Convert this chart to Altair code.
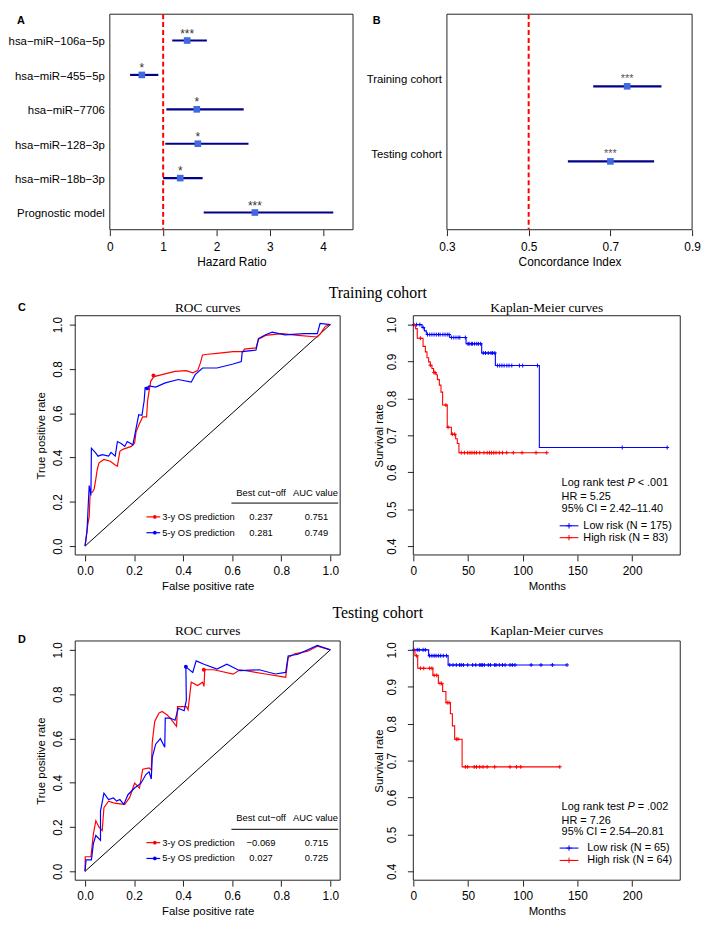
import altair as alt
import pandas as pd

SANS = "Liberation Sans"
SERIF = "Liberation Serif"
RED = "#FF0000"
BLUE = "#0000FF"

# ---------------- Panel A: hazard ratios ----------------
a_labels = ["hsa−miR−106a−5p", "hsa−miR−455−5p", "hsa−miR−7706",
            "hsa−miR−128−3p", "hsa−miR−18b−3p", "Prognostic model"]
a_hr = [1.45, 0.60, 1.63, 1.65, 1.32, 2.72]
a_lo = [1.17, 0.38, 1.06, 1.04, 1.00, 1.76]
a_hi = [1.82, 0.91, 2.51, 2.60, 1.74, 4.19]
a_sig = ["***", "*", "*", "*", "*", "***"]
a_ref = 1.0
a_xticks = [0, 1, 2, 3, 4]
a_xdom = [0, 4.56]
a_ydom = [0.235, 6.5]

# ---------------- Panel B: concordance index ----------------
b_labels = ["Training cohort", "Testing cohort"]
b_ci = [0.741, 0.700]
b_lo = [0.658, 0.596]
b_hi = [0.825, 0.807]
b_sig = ["***", "***"]
b_ref = 0.5
b_xticks = [0.3, 0.5, 0.7, 0.9]
b_xdom = [0.3, 0.9]
b_ydom = [0.04, 2.91]

# ---------------- ROC curves ----------------
roc_ticks = [0.0, 0.2, 0.4, 0.6, 0.8, 1.0]
roc_dom = [-0.04, 1.04]
roc_names = ["3-y OS prediction", "5-y OS prediction"]

rc3_fpr = [0, 0.011, 0.017, 0.021, 0.030, 0.037, 0.044, 0.050, 0.057, 0.077, 0.103, 0.123, 0.132, 0.142,
           0.156, 0.189, 0.202, 0.208, 0.222, 0.235, 0.251, 0.255, 0.261, 0.268, 0.281, 0.314, 0.367,
           0.413, 0.439, 0.459, 0.470, 0.479, 0.499, 0.538, 0.604, 0.644, 0.650, 0.697, 0.707, 0.736,
           0.802, 0.868, 0.947, 0.960, 0.980, 1.0]
rc3_tpr = [0, 0.096, 0.133, 0.243, 0.243, 0.258, 0.302, 0.347, 0.376, 0.391, 0.383, 0.366, 0.361, 0.428,
           0.438, 0.450, 0.465, 0.516, 0.553, 0.583, 0.583, 0.656, 0.700, 0.745, 0.765, 0.774, 0.789,
           0.792, 0.782, 0.792, 0.826, 0.863, 0.866, 0.870, 0.878, 0.878, 0.889, 0.895, 0.934, 0.951,
           0.959, 0.951, 0.944, 0.959, 0.993, 1.0]
rc5_fpr = [0, 0.008, 0.013, 0.017, 0.024, 0.026, 0.044, 0.053, 0.070, 0.096, 0.106, 0.123, 0.132, 0.149,
           0.162, 0.172, 0.195, 0.208, 0.219, 0.232, 0.241, 0.245, 0.251, 0.261, 0.288, 0.327, 0.380,
           0.433, 0.449, 0.479, 0.538, 0.604, 0.637, 0.641, 0.697, 0.707, 0.736, 0.763, 0.815, 0.894,
           0.947, 0.958, 1.0]
rc5_tpr = [0, 0.066, 0.184, 0.273, 0.229, 0.442, 0.420, 0.406, 0.413, 0.406, 0.423, 0.406, 0.472, 0.462,
           0.450, 0.472, 0.457, 0.531, 0.593, 0.590, 0.656, 0.715, 0.712, 0.723, 0.718, 0.737, 0.752,
           0.740, 0.774, 0.804, 0.804, 0.822, 0.833, 0.878, 0.885, 0.937, 0.954, 0.966, 0.954, 0.959,
           0.959, 1.005, 1.0]
rc_dot_fpr = [0.279, 0.253]
rc_dot_tpr = [0.770, 0.712]
rc_cut = [0.237, 0.281]
rc_auc = [0.751, 0.749]

rd3_fpr = [0, 0.001, 0.024, 0.034, 0.044, 0.057, 0.070, 0.077, 0.096, 0.116, 0.142, 0.162, 0.182, 0.202,
           0.222, 0.235, 0.261, 0.270, 0.274, 0.284, 0.301, 0.314, 0.334, 0.347, 0.373, 0.377, 0.413,
           0.420, 0.433, 0.459, 0.479, 0.485, 0.488, 0.525, 0.604, 0.631, 0.736, 0.802, 0.818, 0.828,
           0.855, 0.908, 0.947, 1.0]
rd3_tpr = [0, 0.066, 0.066, 0.169, 0.228, 0.199, 0.184, 0.287, 0.317, 0.309, 0.305, 0.302, 0.334, 0.398,
           0.376, 0.461, 0.467, 0.457, 0.582, 0.677, 0.714, 0.722, 0.707, 0.692, 0.655, 0.744, 0.744,
           0.729, 0.854, 0.839, 0.854, 0.835, 0.910, 0.910, 0.890, 0.910, 0.891, 0.879, 0.876, 0.965,
           0.982, 0.994, 1.016, 1.0]
rd5_fpr = [0, 0.004, 0.026, 0.034, 0.044, 0.063, 0.063, 0.077, 0.096, 0.116, 0.129, 0.142, 0.158, 0.175,
           0.202, 0.228, 0.248, 0.261, 0.270, 0.274, 0.288, 0.307, 0.325, 0.327, 0.347, 0.367, 0.380,
           0.404, 0.413, 0.411, 0.439, 0.453, 0.485, 0.538, 0.578, 0.631, 0.710, 0.776, 0.818, 0.828,
           0.868, 0.947, 1.0]
rd5_tpr = [0, 0.052, 0.052, 0.125, 0.162, 0.140, 0.272, 0.353, 0.324, 0.331, 0.317, 0.324, 0.302, 0.346,
           0.376, 0.398, 0.437, 0.449, 0.417, 0.515, 0.574, 0.599, 0.560, 0.692, 0.692, 0.682, 0.736,
           0.725, 0.773, 0.923, 0.898, 0.950, 0.935, 0.913, 0.935, 0.906, 0.910, 0.891, 0.898, 0.972,
           0.980, 1.020, 1.0]
rd_dot_fpr = [0.484, 0.411]
rd_dot_tpr = [0.910, 0.924]
rd_cut = [-0.069, 0.027]
rd_auc = [0.715, 0.725]

# ---------------- Kaplan-Meier curves ----------------
km_xticks = [0, 50, 100, 150, 200]
km_yticks = [0.4, 0.5, 0.6, 0.7, 0.8, 0.9, 1.0]
km_xdom = [0, 244]
km_ydom = [0.376, 1.024]

kc_low_t = [0, 8.0, 10.1, 11.9, 12.5, 33.3, 48.2, 62.5, 75.0, 115.2, 232]
kc_low_s = [1.0, 0.992, 0.983, 0.977, 0.973, 0.965, 0.948, 0.923, 0.889, 0.667, 0.667]
kc_low_c = [0.6, 3, 6, 9, 13, 15, 17, 19, 21, 23, 24.5, 27, 29, 31, 32.7, 35, 37, 39, 41, 42.5, 47.5,
            50, 51, 53, 54, 56, 58, 59.5, 61.5, 64, 66, 68.5, 71, 72.5, 74.5, 77, 79, 81, 83, 85.5,
            87.5, 90, 97, 100, 113.5, 191, 232]
kc_high_t = [0, 2.1, 3.6, 8.9, 11.0, 12.5, 14.0, 15.5, 17.0, 18.5, 20.8, 22.0, 23.8, 25.3, 26.8, 31.0,
             34.8, 38.7, 40.2, 41.7, 122]
kc_high_s = [1.0, 0.989, 0.963, 0.941, 0.926, 0.910, 0.899, 0.890, 0.881, 0.870, 0.864, 0.851, 0.836,
             0.817, 0.782, 0.722, 0.703, 0.691, 0.678, 0.653, 0.653]
kc_high_c = [6.5, 15.6, 19.0, 19.9, 29.8, 31.8, 35.7, 37.8, 43.8, 46.7, 49.7, 51.8, 53.6, 55.7, 57.7,
             60.7, 64.6, 67.5, 69.6, 71.4, 73.5, 75.6, 78.6, 81.5, 85.4, 91.4, 99.4, 112.2, 122.0]

kd_low_t = [0, 14.0, 31.8, 140.5]
kd_low_s = [1.0, 0.984, 0.959, 0.959]
kd_low_c = [0.6, 3.6, 5.4, 8.9, 11.0, 14.9, 17.0, 19.0, 20.8, 22.9, 25.0, 27.4, 30.4, 33.3, 36.3, 39.3,
            42.3, 43.8, 45.8, 49.7, 54.2, 57.1, 60.7, 61.9, 63.1, 64.9, 68.5, 70.5, 74.4, 75.6, 78.6,
            81.5, 83.9, 88.4, 90.5, 92.9, 107.7, 116.7, 127.1, 140.5]
kd_high_t = [0, 1.5, 4.0, 17.9, 22.9, 26.8, 29.8, 33.9, 35.7, 37.8, 44.6, 133.9]
kd_high_s = [1.0, 0.984, 0.950, 0.931, 0.909, 0.887, 0.857, 0.827, 0.794, 0.758, 0.683, 0.683]
kd_high_c = [3.0, 6.5, 9.5, 14.9, 17.0, 19.0, 21.4, 24.4, 25.9, 31.0, 32.7, 39.3, 40.8, 47.6, 49.7,
             55.7, 57.7, 60.7, 63.7, 67.5, 74.4, 88.4, 94.3, 98.2, 133.9]

kc_stats = ["< .001", "HR = 5.25", "95% CI = 2.42–11.40"]
kc_legend = ["Low risk (N = 175)", "High risk (N = 83)"]
kd_stats = ["= .002", "HR = 7.26", "95% CI = 2.54–20.81"]
kd_legend = ["Low risk (N = 65)", "High risk (N = 64)"]

# ---------------- layout ----------------
A_W, A_H, A_X0 = 281, 218, 35
B_W, B_X0 = 282, 34
R_W, K_W, P_H = 268, 270, 242


def one(text="_"):
    return pd.DataFrame({"t": [text]})


def txt(x, y, text, size=11, align="left", font=SANS, weight="normal", style="normal", color="black"):
    return alt.Chart(one(text)).mark_text(
        align=align, baseline="middle", fontSize=size, font=font,
        fontWeight=weight, fontStyle=style, color=color
    ).encode(x=alt.value(x), y=alt.value(y), text="t:N")


def seg(x1, x2, y, color, width=1.0):
    return alt.Chart(one()).mark_rule(color=color, strokeWidth=width).encode(
        x=alt.value(x1), x2=alt.value(x2), y=alt.value(y))


def sym(x, y, color, shape, size, filled):
    return alt.Chart(one()).mark_point(shape=shape, size=size, filled=filled, color=color,
                                       opacity=1, strokeWidth=1).encode(x=alt.value(x), y=alt.value(y))


def frame(xdom, ydom, X, Y):
    df = pd.DataFrame({"x0": [xdom[0]], "x1": [xdom[1]], "y0": [ydom[0]], "y1": [ydom[1]]})
    return alt.Chart(df).mark_rect(fill="transparent", stroke="#222222", strokeWidth=1).encode(
        x=X("x0:Q"), x2="x1:Q", y=Y("y0:Q"), y2="y1:Q")


def fmt3(v):
    return f"{v:.3f}".replace("-", "−")


def forest(labels, est, lo, hi, sig, ref, xdom, ydom, W, H, x0, xticks, xfmt, xtitle,
           letter, letter_x, lab_dy, star_size, star_color):
    xs = alt.Scale(domain=xdom, range=[x0, W], nice=False, zero=False)
    ys = alt.Scale(domain=ydom, reverse=True, nice=False, zero=False)
    xaxis = alt.Axis(values=xticks, format=xfmt, title=xtitle, tickSize=6, labelPadding=6,
                     titlePadding=4, labelFontSize=12, titleFontSize=12)
    X = lambda f: alt.X(f, scale=xs, axis=xaxis)
    Y = lambda f: alt.Y(f, scale=ys, axis=None)
    df = pd.DataFrame({"row": list(range(1, len(labels) + 1)), "label": labels,
                       "est": est, "lo": lo, "hi": hi, "sig": sig})
    fr = frame(xdom, ydom, X, Y)
    rl = alt.Chart(pd.DataFrame({"v": [ref]})).mark_rule(
        color=RED, strokeWidth=2, strokeDash=[5, 3]).encode(x=X("v:Q"))
    base = alt.Chart(df)
    ci = base.mark_rule(color="#00008B", strokeWidth=2.2).encode(x=X("lo:Q"), x2="hi:Q", y=Y("row:Q"))
    pt = base.mark_square(size=45, color="#4169E1", opacity=1).encode(x=X("est:Q"), y=Y("row:Q"))
    st = base.mark_text(baseline="middle", dy=-7, fontSize=star_size, color=star_color).encode(
        x=X("est:Q"), y=Y("row:Q"), text="sig:N")
    lb = base.mark_text(align="right", baseline="middle", dy=lab_dy, fontSize=11.5).encode(
        x=alt.value(x0 - 5), y=Y("row:Q"), text="label:N")
    let = txt(letter_x, 7, letter, size=11, weight="bold")
    return alt.layer(fr, rl, ci, pt, st, lb, let).properties(width=W, height=H)


def roc(c3, c5, dfpr, dtpr, cuts, aucs, letter, letter_y, title_y, heading, heading_y, ul_y, rows_y):
    xs = alt.Scale(domain=roc_dom, nice=False, zero=False)
    ys = alt.Scale(domain=roc_dom, nice=False, zero=False)
    xaxis = alt.Axis(values=roc_ticks, format=".1f", title="False positive rate", tickSize=6,
                     labelPadding=5, titlePadding=4, labelFontSize=12, titleFontSize=11.5)
    yaxis = alt.Axis(values=roc_ticks, format=".1f", title="True positive rate", tickSize=6,
                     labelAngle=270, labelAlign="center", labelBaseline="bottom",
                     labelPadding=5, titlePadding=5, labelFontSize=12, titleFontSize=11.5)
    X = lambda f: alt.X(f, scale=xs, axis=xaxis)
    Y = lambda f: alt.Y(f, scale=ys, axis=yaxis)
    fr = frame(roc_dom, roc_dom, X, Y)
    diag = alt.Chart(pd.DataFrame({"fpr": [0, 1], "tpr": [0, 1]})).mark_line(
        color="black", strokeWidth=1).encode(x=X("fpr:Q"), y=Y("tpr:Q"))
    layers = [fr, diag]
    for k, (col, (f, t)) in enumerate(((RED, c3), (BLUE, c5))):
        n = min(len(f), len(t))
        cdf = pd.DataFrame({"fpr": f[:n], "tpr": t[:n], "i": list(range(n))})
        layers.append(alt.Chart(cdf).mark_line(strokeWidth=1.2, color=col).encode(
            x=X("fpr:Q"), y=Y("tpr:Q"), order="i:Q"))
        layers.append(alt.Chart(pd.DataFrame({"fpr": [dfpr[k]], "tpr": [dtpr[k]]})).mark_circle(
            size=16, opacity=1, color=col).encode(x=X("fpr:Q"), y=Y("tpr:Q")))
    layers += [txt(R_W / 2, title_y, "ROC curves", size=13.5, align="center", font=SERIF),
               txt(306, heading_y, heading, size=16, align="center", font=SERIF),
               txt(-58, letter_y, letter, size=11, weight="bold"),
               txt(188, 179, "Best cut−off", size=9.5, align="center"),
               txt(243, 179, "AUC value", size=9.5, align="center"),
               seg(158, 266, ul_y, "black", 1)]
    for k, col in enumerate([RED, BLUE]):
        y = rows_y[k]
        layers += [seg(72, 86, y, col, 1.2), sym(80.5, y, col, "circle", 14, True),
                   txt(88, y, roc_names[k], size=9.5),
                   txt(188, y, fmt3(cuts[k]), size=9.5, align="center"),
                   txt(244, y, fmt3(aucs[k]), size=9.5, align="center")]
    return alt.layer(*layers).properties(width=R_W, height=P_H)


def step_level(ts, ss, c):
    lv = ss[0]
    for t, s in zip(ts, ss):
        if t <= c:
            lv = s
    return lv


CENSOR = "M-1,0L1,0M0,-1L0,1"


def km(low, high, stats, legend, title_y, stat_y, leg_y, leg_x):
    xs = alt.Scale(domain=km_xdom, nice=False, zero=False)
    ys = alt.Scale(domain=km_ydom, nice=False, zero=False)
    xaxis = alt.Axis(values=km_xticks, format="d", title="Months", tickSize=6,
                     labelPadding=5, titlePadding=4, labelFontSize=12, titleFontSize=11.5)
    yaxis = alt.Axis(values=km_yticks, format=".1f", title="Survival rate", tickSize=6,
                     labelAngle=270, labelAlign="center", labelBaseline="bottom",
                     labelPadding=9, titlePadding=1, labelFontSize=12, titleFontSize=11.5)
    X = lambda f: alt.X(f, scale=xs, axis=xaxis)
    Y = lambda f: alt.Y(f, scale=ys, axis=yaxis)
    layers = [frame(km_xdom, km_ydom, X, Y)]
    for col, (ts, ss, cens) in ((BLUE, low), (RED, high)):
        ldf = pd.DataFrame({"t": ts, "s": ss})
        cdf = pd.DataFrame({"t": cens, "s": [step_level(ts, ss, c) for c in cens]})
        layers.append(alt.Chart(ldf).mark_line(interpolate="step-after", strokeWidth=1.1, color=col)
                      .encode(x=X("t:Q"), y=Y("s:Q")))
        layers.append(alt.Chart(cdf).mark_point(shape=CENSOR, size=16, filled=False, strokeWidth=1,
                                                opacity=1, color=col).encode(x=X("t:Q"), y=Y("s:Q")))
    layers += [txt(K_W / 2, title_y, "Kaplan-Meier curves", size=13.5, align="center", font=SERIF),
               txt(150, stat_y[0], "Log rank test", size=11),
               txt(216.6, stat_y[0], "P", size=11, style="italic"),
               txt(227, stat_y[0], stats[0], size=11),
               txt(150, stat_y[1], stats[1], size=11),
               txt(150, stat_y[2], stats[2], size=11)]
    for k, col in enumerate([BLUE, RED]):
        y = leg_y[k]
        layers += [seg(148, 167, y, col, 1.1), sym(157.5, y, col, CENSOR, 30, False),
                   txt(leg_x, y, legend[k], size=11)]
    return alt.layer(*layers).properties(width=K_W, height=P_H)


panel_a = forest(a_labels, a_hr, a_lo, a_hi, a_sig, a_ref, a_xdom, a_ydom, A_W, A_H, A_X0,
                 a_xticks, "d", "Hazard Ratio", "A", A_X0 - 94, 2, 12, "#333333")
panel_b = forest(b_labels, b_ci, b_lo, b_hi, b_sig, b_ref, b_xdom, b_ydom, B_W, A_H, B_X0,
                 b_xticks, ".1f", "Concordance Index", "B", B_X0 - 75, -6, 11, "#555555")
roc_c = roc((rc3_fpr, rc3_tpr), (rc5_fpr, rc5_tpr), rc_dot_fpr, rc_dot_tpr, rc_cut, rc_auc,
            "C", -8, -8, "Training cohort", -23, 189.5, [203.5, 219.5])
km_c = km((kc_low_t, kc_low_s, kc_low_c), (kc_high_t, kc_high_s, kc_high_c), kc_stats, kc_legend,
          -8, [169, 183, 196], [212.5, 224.5], 172)
roc_d = roc((rd3_fpr, rd3_tpr), (rd5_fpr, rd5_tpr), rd_dot_fpr, rd_dot_tpr, rd_cut, rd_auc,
            "D", -1, -10, "Testing cohort", -28, 190.5, [204, 220])
km_d = km((kd_low_t, kd_low_s, kd_low_c), (kd_high_t, kd_high_s, kd_high_c), kd_stats, kd_legend,
          -10, [168, 182, 193], [209.5, 222], 176)

chart = alt.concat(panel_a, panel_b, roc_c, km_c, roc_d, km_d, columns=2,
                   spacing={"row": 87, "column": 61}, bounds="flush", align="each",
                   padding=0).configure(font=SANS).configure_axis(
    domain=False, grid=False, labelColor="black", titleColor="black", tickColor="#222222",
    labelFont=SANS, titleFont=SANS, titleFontWeight="normal", labelFlush=False, labelOverlap=False
).configure_view(strokeOpacity=0)

chart.save("out.html", embed_options={"renderer": "svg", "actions": False})
